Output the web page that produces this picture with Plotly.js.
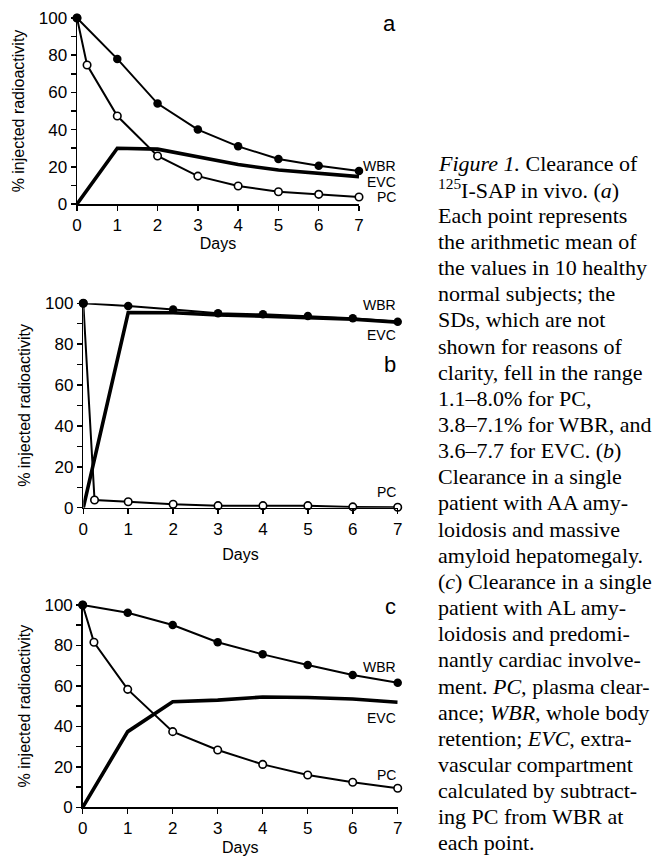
<!DOCTYPE html>
<html><head><meta charset="utf-8">
<script src="https://cdn.plot.ly/plotly-3.0.1.min.js"></script>
<style>html,body{margin:0;padding:0;background:#fff}#chart{width:670px;height:856px}</style>
</head><body><div id="chart"></div>
<script>
// ---------- data ----------
// Panel a: mean of 10 healthy subjects
const daysA = [0, 1, 2, 3, 4, 5, 6, 7];
const daysPcA = [0, 0.25, 1, 2, 3, 4, 5, 6, 7];
const wbrA = [100, 78, 54, 40, 31, 24.2, 20.6, 17.7];
const pcA = [100, 74.7, 47.3, 25.8, 15, 9.7, 6.6, 5.2, 3.8];
const evcA = [0, 30, 29.5, 25.4, 21.2, 18.3, 16.4, 14.7];
// Panel b: AA amyloidosis, massive hepatomegaly
const daysB = [0, 1, 2, 3, 4, 5, 6, 7];
const daysPcB = [0, 0.25, 1, 2, 3, 4, 5, 6, 7];
const wbrB = [100, 98.7, 97.0, 95.1, 94.6, 93.8, 92.7, 91.0];
const pcB = [100, 3.8, 2.9, 1.7, 1.0, 1.0, 1.0, 0.4, 0.2];
const evcB = [0, 95.5, 95.4, 94.3, 93.7, 92.9, 92.2, 90.8];
// Panel c: AL amyloidosis, predominantly cardiac
const daysC = [0, 1, 2, 3, 4, 5, 6, 7];
const daysPcC = [0, 0.25, 1, 2, 3, 4, 5, 6, 7];
const wbrC = [100, 96.2, 90.1, 81.6, 75.6, 70.3, 65.4, 61.6];
const pcC = [100, 81.6, 58.3, 37.4, 28.3, 21.2, 16.0, 12.4, 9.4];
const evcC = [0, 37.4, 52.2, 53.0, 54.5, 54.3, 53.5, 51.9];

const xTickLabels = ['0','1','2','3','4','5','6','7'];
const yTickLabels = ['0','20','40','60','80','100'];
const panelLetters = ['a', 'b', 'c'];
const xTitle = 'Days';
const yTitle = '% injected radioactivity';

const captionLines = [
  '<i>Figure 1.</i> Clearance of',
  '<sup>125</sup>I-SAP in vivo. (<i>a</i>)',
  'Each point represents',
  'the arithmetic mean of',
  'the values in 10 healthy',
  'normal subjects; the',
  'SDs, which are not',
  'shown for reasons of',
  'clarity, fell in the range',
  '1.1–8.0% for PC,',
  '3.8–7.1% for WBR, and',
  '3.6–7.7 for EVC. (<i>b</i>)',
  'Clearance in a single',
  'patient with AA amy-',
  'loidosis and massive',
  'amyloid hepatomegaly.',
  '(<i>c</i>) Clearance in a single',
  'patient with AL amy-',
  'loidosis and predomi-',
  'nantly cardiac involve-',
  'ment. <i>PC,</i> plasma clear-',
  'ance; <i>WBR,</i> whole body',
  'retention; <i>EVC,</i> extra-',
  'vascular compartment',
  'calculated by subtract-',
  'ing PC from WBR at',
  'each point.'
];

// ---------- layout helpers ----------
const W = 670, H = 856;
const px = x => x / W;
const py = y => 1 - y / H;

const panels = [
  {xd: [77, 359], yd: [204, 18], xs: ['x', 'y'], days: daysA, dpc: daysPcA, wbr: wbrA, pc: pcA, evc: evcA, xstand: 4,
   labels: [[166, 'WBR'], [182, 'EVC'], [197, 'PC']], letterY: 23},
  {xd: [83.3, 397.7], yd: [507.7, 303.3], xs: ['x2', 'y2'], days: daysB, dpc: daysPcB, wbr: wbrB, pc: pcB, evc: evcB, xstand: 11,
   labels: [[305, 'WBR'], [334.5, 'EVC'], [491.7, 'PC']], letterY: 365},
  {xd: [82.7, 397.7], yd: [807.3, 605], xs: ['x3', 'y3'], days: daysC, dpc: daysPcC, wbr: wbrC, pc: pcC, evc: evcC, xstand: 12,
   labels: [[666.7, 'WBR'], [718.3, 'EVC'], [775, 'PC']], letterY: 606.7}
];

const traces = [];
const layout = {
  width: W, height: H,
  margin: {l: 0, r: 0, t: 0, b: 0},
  paper_bgcolor: '#fff', plot_bgcolor: 'rgba(0,0,0,0)',
  font: {family: 'Liberation Sans, Arial, sans-serif', color: '#000', size: 16},
  showlegend: false,
  annotations: []
};

panels.forEach((p, i) => {
  const [xa, ya] = p.xs;
  traces.push({x: p.days, y: p.evc, xaxis: xa, yaxis: ya, name: 'EVC', mode: 'lines', cliponaxis: false,
    line: {color: '#000', width: 3.6}});
  traces.push({x: p.dpc, y: p.pc, xaxis: xa, yaxis: ya, name: 'PC', mode: 'lines+markers', cliponaxis: false,
    line: {color: '#000', width: 2},
    marker: {symbol: 'circle', size: 7.5, color: '#fff', line: {color: '#000', width: 1.6}}});
  traces.push({x: p.days, y: p.wbr, xaxis: xa, yaxis: ya, name: 'WBR', mode: 'lines+markers', cliponaxis: false,
    line: {color: '#000', width: 2},
    marker: {symbol: 'circle', size: 8.5, color: '#000'}});

  const sfx = i === 0 ? '' : String(i + 1);
  layout['xaxis' + sfx] = {
    domain: [px(p.xd[0]), px(p.xd[1])], anchor: ya, range: [0, 7],
    tickmode: 'array', tickvals: xTickLabels.map(Number), ticktext: xTickLabels,
    ticks: 'outside', ticklen: 5, tickwidth: 1.5, tickcolor: '#000',
    showline: true, linewidth: 1.5, linecolor: '#000',
    showgrid: false, zeroline: false, fixedrange: true,
    tickfont: {size: 17},
    title: {text: xTitle, font: {size: 16}, standoff: p.xstand}
  };
  layout['yaxis' + sfx] = {
    domain: [py(p.yd[0]), py(p.yd[1])], anchor: xa, range: [0, 100],
    tickmode: 'array', tickvals: yTickLabels.map(Number), ticktext: yTickLabels,
    ticks: 'outside', ticklen: 5, tickwidth: 1.5, tickcolor: '#000',
    minor: {dtick: 10, tick0: 0, ticks: 'outside', ticklen: 5, tickwidth: 1.5, tickcolor: '#000', showgrid: false},
    showline: true, linewidth: 1.5, linecolor: '#000',
    showgrid: false, zeroline: false, fixedrange: true,
    tickfont: {size: 17},
    title: {text: yTitle, font: {size: 16}, standoff: 10}
  };

  p.labels.forEach(([y, t]) => {
    layout.annotations.push({xref: 'paper', yref: 'paper', x: px(397.5), y: py(y), xanchor: 'right', yanchor: 'middle',
      text: t, showarrow: false, font: {size: 14}});
  });
  layout.annotations.push({xref: 'paper', yref: 'paper', x: px(397.5), y: py(p.letterY), xanchor: 'right', yanchor: 'middle',
    text: panelLetters[i], showarrow: false, font: {size: 22}});
});

captionLines.forEach((t, k) => {
  layout.annotations.push({xref: 'paper', yref: 'paper', x: px(436), y: py(163 + k * 26.15), xanchor: 'left', yanchor: 'middle',
    text: t, showarrow: false, align: 'left',
    font: {family: 'Liberation Serif, Times New Roman, serif', size: 22, color: '#000'}});
});

Plotly.newPlot('chart', traces, layout, {displayModeBar: false, staticPlot: true});
</script>
</body></html>
